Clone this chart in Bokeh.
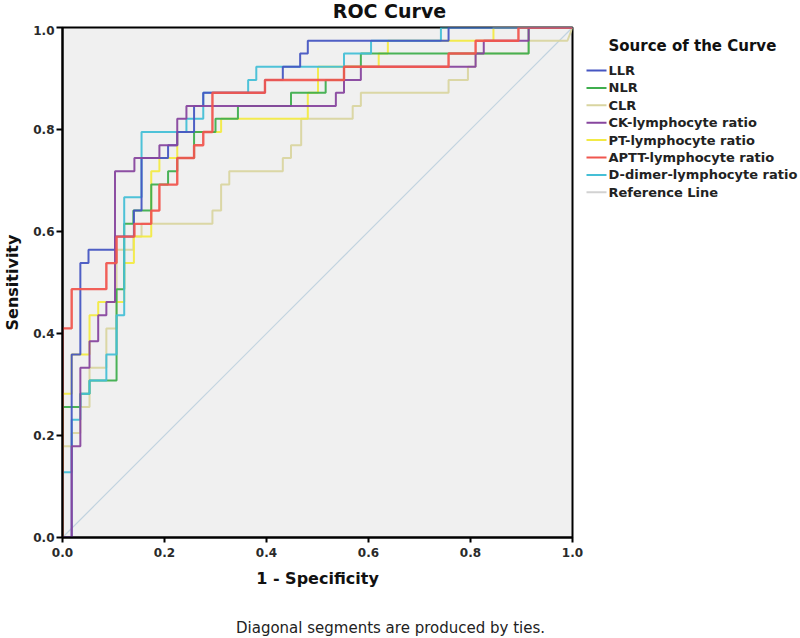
from bokeh.plotting import figure
from bokeh.models import Range1d, FixedTicker, PrintfTickFormatter
from bokeh.layouts import column, row
from bokeh.core.properties import value
from bokeh.embed import file_html
from bokeh.resources import INLINE

# ---------------- data (1 - specificity, sensitivity) ----------------
llr_fpr = [0, 0.018, 0.018, 0.035, 0.035, 0.051, 0.051, 0.103, 0.103, 0.14, 0.14, 0.155, 0.155, 0.207, 0.207,
           0.225, 0.225, 0.258, 0.258, 0.276, 0.276, 0.397, 0.397, 0.432, 0.432, 0.466, 0.466, 0.481, 0.481,
           0.757, 0.757, 1.0]
llr_tpr = [0, 0, 0.359, 0.359, 0.538, 0.538, 0.564, 0.564, 0.590, 0.590, 0.641, 0.641, 0.744, 0.744, 0.769,
           0.769, 0.795, 0.795, 0.846, 0.846, 0.872, 0.872, 0.897, 0.897, 0.923, 0.923, 0.949, 0.949, 0.974,
           0.974, 1.0, 1.0]

nlr_fpr = [0, 0, 0.035, 0.035, 0.053, 0.053, 0.106, 0.106, 0.121, 0.121, 0.139, 0.139, 0.174, 0.174, 0.207,
           0.207, 0.225, 0.225, 0.258, 0.258, 0.3, 0.3, 0.344, 0.344, 0.448, 0.448, 0.516, 0.516, 0.552, 0.552,
           0.585, 0.585, 0.914, 0.914, 1.0]
nlr_tpr = [0, 0.256, 0.256, 0.282, 0.282, 0.308, 0.308, 0.487, 0.487, 0.615, 0.615, 0.641, 0.641, 0.692, 0.692,
           0.718, 0.718, 0.744, 0.744, 0.795, 0.795, 0.821, 0.821, 0.846, 0.846, 0.872, 0.872, 0.897, 0.897,
           0.923, 0.923, 0.949, 0.949, 1.0, 1.0]

clr_fpr = [0, 0, 0.018, 0.018, 0.035, 0.035, 0.053, 0.053, 0.086, 0.086, 0.106, 0.106, 0.139, 0.139, 0.155,
           0.155, 0.294, 0.294, 0.311, 0.311, 0.327, 0.327, 0.432, 0.432, 0.448, 0.448, 0.468, 0.468, 0.569,
           0.569, 0.585, 0.585, 0.757, 0.757, 0.795, 0.795, 0.81, 0.81, 0.914, 0.914, 0.99, 1.0]
clr_tpr = [0, 0.179, 0.179, 0.205, 0.205, 0.256, 0.256, 0.333, 0.333, 0.41, 0.41, 0.564, 0.564, 0.59, 0.59,
           0.615, 0.615, 0.641, 0.641, 0.692, 0.692, 0.718, 0.718, 0.744, 0.744, 0.769, 0.769, 0.821, 0.821,
           0.846, 0.846, 0.872, 0.872, 0.897, 0.897, 0.923, 0.923, 0.949, 0.949, 0.974, 0.974, 1.0]

ck_fpr = [0, 0.018, 0.018, 0.035, 0.035, 0.053, 0.053, 0.07, 0.07, 0.086, 0.086, 0.103, 0.103, 0.141, 0.141,
          0.19, 0.19, 0.225, 0.225, 0.243, 0.243, 0.536, 0.536, 0.552, 0.552, 0.585, 0.585, 0.81, 0.81, 0.826,
          0.826, 0.914, 0.914, 1.0]
ck_tpr = [0, 0, 0.179, 0.179, 0.333, 0.333, 0.385, 0.385, 0.436, 0.436, 0.462, 0.462, 0.718, 0.718, 0.744,
          0.744, 0.769, 0.769, 0.821, 0.821, 0.846, 0.846, 0.872, 0.872, 0.897, 0.897, 0.923, 0.923, 0.949,
          0.949, 0.974, 0.974, 1.0, 1.0]

pt_fpr = [0, 0, 0.018, 0.018, 0.053, 0.053, 0.07, 0.07, 0.121, 0.121, 0.14, 0.14, 0.174, 0.174, 0.19, 0.19,
          0.225, 0.225, 0.311, 0.311, 0.481, 0.481, 0.501, 0.501, 0.62, 0.62, 0.638, 0.638, 0.845, 0.845, 1.0]
pt_tpr = [0, 0.282, 0.282, 0.359, 0.359, 0.436, 0.436, 0.462, 0.462, 0.538, 0.538, 0.59, 0.59, 0.718, 0.718,
          0.744, 0.744, 0.795, 0.795, 0.821, 0.821, 0.872, 0.872, 0.923, 0.923, 0.949, 0.949, 0.974, 0.974,
          1.0, 1.0]

aptt_fpr = [0, 0, 0.018, 0.018, 0.086, 0.086, 0.106, 0.106, 0.141, 0.141, 0.174, 0.174, 0.19, 0.19, 0.225,
            0.225, 0.258, 0.258, 0.276, 0.276, 0.294, 0.294, 0.397, 0.397, 0.552, 0.552, 0.757, 0.757, 0.81,
            0.81, 0.894, 0.894, 1.0]
aptt_tpr = [0, 0.41, 0.41, 0.487, 0.487, 0.538, 0.538, 0.59, 0.59, 0.615, 0.615, 0.641, 0.641, 0.692, 0.692,
            0.744, 0.744, 0.769, 0.769, 0.795, 0.795, 0.872, 0.872, 0.897, 0.897, 0.923, 0.923, 0.949, 0.949,
            0.974, 0.974, 1.0, 1.0]

dd_fpr = [0, 0, 0.018, 0.018, 0.035, 0.035, 0.053, 0.053, 0.086, 0.086, 0.106, 0.106, 0.121, 0.121, 0.155,
          0.155, 0.243, 0.243, 0.276, 0.276, 0.364, 0.364, 0.38, 0.38, 0.552, 0.552, 0.605, 0.605, 0.742,
          0.742, 1.0]
dd_tpr = [0, 0.128, 0.128, 0.231, 0.231, 0.282, 0.282, 0.308, 0.308, 0.359, 0.359, 0.436, 0.436, 0.667, 0.667,
          0.795, 0.795, 0.821, 0.821, 0.872, 0.872, 0.897, 0.897, 0.923, 0.923, 0.949, 0.949, 0.974, 0.974,
          1.0, 1.0]

ref_fpr = [0, 1]
ref_tpr = [0, 1]

series_names = ["LLR", "NLR", "CLR", "CK-lymphocyte ratio", "PT-lymphocyte ratio",
                "APTT-lymphocyte ratio", "D-dimer-lymphocyte ratio", "Reference Line"]
series_colors = ["#4656c2", "#3fae4e", "#d9d5a0", "#87469e", "#f2ea45", "#f0564f", "#45bfd6", "#d2d2d2"]
tick_values = [0.0, 0.2, 0.4, 0.6, 0.8, 1.0]

chart_title = "ROC Curve"
legend_title = "Source of the Curve"
footnote = "Diagonal segments are produced by ties."

FONT = "DejaVu Sans"


def blank(width, height, frame_h=None, top=0, bottom=0):
    fh = height if frame_h is None else frame_h
    f = figure(width=width, height=height, output_backend="svg", toolbar_location=None,
               x_range=Range1d(0, width), y_range=Range1d(fh, 0),
               min_border=0, min_border_left=0, min_border_right=0,
               min_border_top=top, min_border_bottom=bottom)
    f.axis.visible = False
    f.grid.visible = False
    f.outline_line_color = None
    f.background_fill_color = "white"
    f.border_fill_color = "white"
    return f


# ---------------- title strip ----------------
t = blank(800, 25)
t.text(x=[389], y=[10], text=[chart_title], text_font=value(FONT), text_font_size=value("19px"),
       text_font_style="bold", text_color="#111111", text_align="center", text_baseline="middle")

# ---------------- main ROC plot ----------------
p = figure(width=584, height=591, output_backend="svg", toolbar_location=None,
           x_range=Range1d(0, 1), y_range=Range1d(0, 1),
           min_border_left=61, min_border_right=12, min_border_top=2, min_border_bottom=79)
p.background_fill_color = "#f0f0f0"
p.border_fill_color = "white"
p.outline_line_color = "black"
p.outline_line_width = 2
p.xgrid.visible = False
p.ygrid.visible = False

for ax in (p.xaxis[0], p.yaxis[0]):
    ax.ticker = FixedTicker(ticks=tick_values)
    ax.formatter = PrintfTickFormatter(format="%.1f")
    ax.axis_line_color = "black"
    ax.axis_line_width = 2
    ax.major_tick_line_color = "black"
    ax.major_tick_line_width = 2
    ax.major_tick_in = 0
    ax.minor_tick_line_color = None
    ax.major_label_text_font = FONT
    ax.major_label_text_font_size = "12px"
    ax.major_label_text_font_style = "bold"
    ax.major_label_text_color = "#2a2a2a"
    ax.axis_label_text_font = FONT
    ax.axis_label_text_font_size = "16px"
    ax.axis_label_text_font_style = "bold"
    ax.axis_label_text_color = "#111111"

p.xaxis[0].axis_label = "1 - Specificity"
p.xaxis[0].major_tick_out = 5
p.xaxis[0].major_label_standoff = 5
p.xaxis[0].axis_label_standoff = 9
p.yaxis[0].axis_label = "Sensitivity"
p.yaxis[0].major_tick_out = 6
p.yaxis[0].major_label_standoff = 2
p.yaxis[0].axis_label_standoff = 8

curves = [(ref_fpr, ref_tpr, "#bfd2de", 1.2),
          (clr_fpr, clr_tpr, series_colors[2], 2),
          (pt_fpr, pt_tpr, series_colors[4], 2),
          (nlr_fpr, nlr_tpr, series_colors[1], 2),
          (dd_fpr, dd_tpr, series_colors[6], 2),
          (llr_fpr, llr_tpr, series_colors[0], 2),
          (ck_fpr, ck_tpr, series_colors[3], 2),
          (aptt_fpr, aptt_tpr, series_colors[5], 2.4)]
for xs, ys, col, lw in curves:
    p.line(xs, ys, line_color=col, line_width=lw, line_alpha=0.95)

# ---------------- legend panel (frame aligned with the plot frame) ----------------
lg = blank(216, 591, frame_h=510, top=2, bottom=79)
item_y = [43 + 17.4 * i for i in range(len(series_names))]
lg.text(x=[24], y=[18], text=[legend_title], text_font=value(FONT), text_font_size=value("15px"),
        text_font_style="bold", text_color="#111111", text_align="left", text_baseline="middle")
lg.segment(x0=[2] * len(series_names), x1=[22] * len(series_names), y0=item_y, y1=item_y,
           line_color=series_colors, line_width=2)
lg.text(x=[24] * len(series_names), y=item_y, text=series_names, text_font=value(FONT),
        text_font_size=value("13px"), text_font_style="bold", text_color="#222222",
        text_align="left", text_baseline="middle")

# ---------------- footnote strip ----------------
fn = blank(800, 22)
fn.text(x=[390], y=[11], text=[footnote], text_font=value(FONT), text_font_size=value("15px"),
        text_color="#222222", text_align="center", text_baseline="middle")

layout = column(t, row(p, lg, spacing=0), fn, spacing=0)
open("out.html", "w").write(file_html(layout, INLINE))
